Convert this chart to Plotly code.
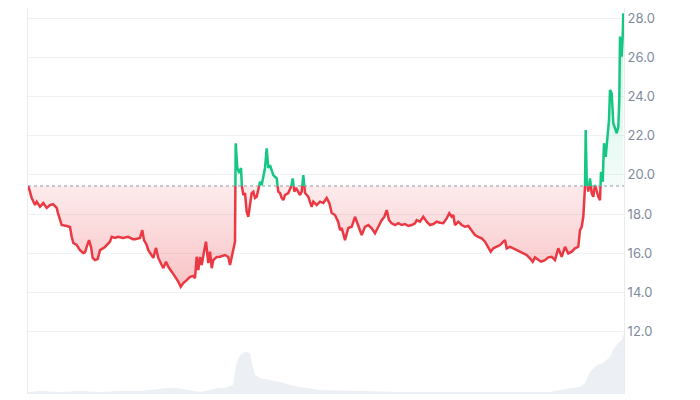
import plotly.graph_objects as go

# ---------------- data ----------------
t_price = [
    0.3, 3.7, 7, 8.7, 12, 15.3, 18.7, 22, 25, 28.7,
    30, 32, 33.7, 38.7, 42, 43.7, 45.3, 48.7, 52, 55.3,
    57, 58.7, 61, 63, 64.7, 67, 69.7, 72, 77, 82,
    83.7, 87, 90, 95, 100, 105, 107, 112, 114.3, 116,
    118.7, 120.3, 123.7, 125.3, 128, 130.3, 133.7, 135.3, 138, 140.3,
    143.7, 147, 150.3, 152.7, 155.3, 158.7, 162, 165.3, 167, 168.7,
    170.3, 172, 173.7, 176, 178, 180.3, 182, 183.7, 185.3, 188.7,
    192, 197, 200.3, 202, 203.7, 205.3, 207, 207.7, 209.3, 211.3,
    213, 213.7, 215.3, 217, 218.7, 220.3, 222, 223.7, 225.3, 227,
    228.7, 230.3, 232, 233.7, 235.3, 237, 238.7, 240.3, 242, 243.7,
    245.3, 247, 248.7, 250.3, 252, 253.7, 255.3, 257, 260.3, 263,
    264.7, 266.3, 268, 270.3, 272, 273.7, 275.3, 277, 280.3, 283.7,
    285.3, 288.7, 292, 295.3, 298.7, 301.3, 303.7, 307, 310.3, 312,
    313.7, 317, 320.3, 323.7, 327, 330.3, 333.7, 337, 340.3, 343.7,
    347, 350.3, 353.7, 356.3, 358.7, 361, 363.7, 367, 370.3, 373.7,
    377, 380.3, 383.7, 387, 388.7, 392, 395.3, 398.7, 402, 405.3,
    408.7, 412, 415.3, 418.7, 421.3, 423.7, 425.3, 427, 430.3, 433.7,
    437, 440.3, 443.7, 447, 450.3, 453.7, 457, 460.3, 462.7, 465.3,
    468.7, 472, 475.3, 477, 478.7, 482, 485.3, 488.7, 492, 495.3,
    498.7, 502, 504.7, 507, 510.3, 513, 517, 520.3, 523.7, 527,
    530.3, 533.7, 537, 540.3, 543.7, 547, 550.3, 552, 553.7, 555.3,
    557, 557.7, 558.7, 560.3, 562, 563.7, 565.3, 567, 568.7, 570.3,
    572, 573, 574.7, 576, 577.7, 579.7, 581, 582, 583.7, 585.3,
    587, 588.7, 590.3, 591.3, 592, 593.7, 594.7, 595.3,
]
price = [
    19.43, 18.82, 18.46, 18.63, 18.37, 18.56, 18.31, 18.46, 18.50, 18.31,
    18.05, 17.69, 17.44, 17.39, 17.34, 16.84, 16.52, 16.42, 16.16, 16.01,
    16.05, 16.33, 16.67, 16.33, 15.76, 15.65, 15.70, 16.16, 16.32, 16.59,
    16.84, 16.78, 16.84, 16.78, 16.84, 16.72, 16.72, 16.78, 17.18, 16.67,
    16.42, 16.16, 15.91, 15.76, 16.27, 15.76, 15.40, 15.24, 15.57, 15.31,
    15.06, 14.80, 14.55, 14.29, 14.48, 14.63, 14.80, 14.84, 14.73, 15.82,
    15.14, 15.81, 15.40, 16.08, 16.59, 15.50, 16.08, 15.24, 15.65, 15.81,
    15.82, 15.91, 15.81, 15.40, 15.82, 16.16, 16.59, 21.61, 20.35, 20.09,
    20.35, 19.48, 18.97, 19.07, 18.12, 17.86, 18.63, 19.07, 19.14, 18.82,
    18.88, 19.22, 19.65, 19.48, 19.99, 20.35, 21.35, 20.35, 20.50, 20.16,
    19.99, 19.90, 19.82, 19.14, 19.07, 18.82, 18.71, 18.97, 19.07, 19.33,
    19.82, 19.14, 19.33, 19.07, 18.97, 19.14, 19.99, 19.07, 18.88, 18.37,
    18.63, 18.46, 18.63, 18.56, 18.82, 18.56, 18.05, 17.95, 17.58, 17.18,
    17.29, 16.67, 17.29, 17.35, 17.86, 17.44, 16.93, 17.35, 17.44, 17.27,
    17.02, 17.35, 17.69, 17.86, 18.20, 17.69, 17.53, 17.44, 17.53, 17.44,
    17.49, 17.39, 17.44, 17.53, 17.69, 17.61, 17.86, 17.61, 17.44, 17.49,
    17.61, 17.56, 17.53, 17.78, 18.04, 17.86, 17.95, 17.44, 17.61, 17.44,
    17.35, 17.39, 17.18, 16.93, 16.84, 16.76, 16.59, 16.25, 16.08, 16.25,
    16.33, 16.42, 16.59, 16.67, 16.25, 16.33, 16.25, 16.16, 16.08, 15.99,
    15.91, 15.74, 15.57, 15.79, 15.65, 15.57, 15.65, 15.79, 15.82, 15.65,
    16.25, 15.82, 16.33, 15.99, 16.08, 16.25, 16.33, 17.18, 17.35, 17.86,
    19.39, 22.29, 19.73, 19.14, 19.82, 19.06, 18.88, 19.48, 19.14, 18.88,
    18.71, 20.16, 19.65, 21.61, 20.92, 21.94, 22.80, 24.33, 24.16, 22.63,
    22.37, 22.12, 22.45, 23.82, 27.05, 26.03, 27.05, 28.24,
]
baseline = 19.43

t_volume = [
    0, 12, 32, 52, 72, 92, 112, 132, 139, 149, 162, 172, 182, 189, 197,
    205, 208, 212, 217, 222, 224, 227, 232, 242, 252, 262, 272, 292, 322,
    372, 422, 472, 522, 537, 552, 557, 562, 569, 575, 582, 585, 590, 594, 596,
]
volume = [
    2, 3, 2, 3, 2, 3, 3, 5, 6, 6, 4, 2, 4, 6, 6,
    9, 29, 39, 42, 41, 31, 19, 16, 14, 12, 9, 7, 4, 3,
    2, 2, 2, 2, 5, 7, 11, 22, 29, 31, 37, 44, 51, 54, 61,
]

y_ticks = [12, 14, 16, 18, 20, 22, 24, 26, 28]

# ---------------- split line at baseline crossings ----------------
xs, ys = [t_price[0]], [price[0]]
for i in range(1, len(price)):
    p0, p1 = price[i - 1], price[i]
    if (p0 - baseline) * (p1 - baseline) < 0:
        f = (baseline - p0) / (p1 - p0)
        xs.append(t_price[i - 1] + f * (t_price[i] - t_price[i - 1]))
        ys.append(baseline)
    xs.append(t_price[i])
    ys.append(p1)

up_line = [y if y >= baseline else None for y in ys]
dn_line = [y if y <= baseline else None for y in ys]
up_fill = [max(y, baseline) for y in ys]
dn_fill = [min(y, baseline) for y in ys]
base_y = [baseline] * len(xs)

GREEN = "#16c784"
RED = "#ea3943"

fig = go.Figure()

fig.add_trace(go.Scatter(
    x=t_volume, y=volume, yaxis="y2", mode="lines",
    line=dict(width=0, color="#eceff3"), fill="tozeroy", fillcolor="#eceff3",
    hoverinfo="skip", showlegend=False,
))

fig.add_trace(go.Scatter(x=xs, y=base_y, mode="lines", line=dict(width=0),
                         hoverinfo="skip", showlegend=False))
fig.add_trace(go.Scatter(
    x=xs, y=dn_fill, mode="lines", line=dict(width=0), fill="tonexty",
    fillgradient=dict(type="vertical", start=baseline, stop=min(price),
                      colorscale=[[0, "rgba(234,57,67,0.10)"], [1, "rgba(234,57,67,0.30)"]]),
    hoverinfo="skip", showlegend=False,
))
fig.add_trace(go.Scatter(x=xs, y=base_y, mode="lines", line=dict(width=0),
                         hoverinfo="skip", showlegend=False))
fig.add_trace(go.Scatter(
    x=xs, y=up_fill, mode="lines", line=dict(width=0), fill="tonexty",
    fillgradient=dict(type="vertical", start=baseline, stop=max(price),
                      colorscale=[[0, "rgba(22,199,132,0.05)"], [1, "rgba(22,199,132,0.22)"]]),
    hoverinfo="skip", showlegend=False,
))

fig.add_trace(go.Scatter(x=xs, y=dn_line, mode="lines", connectgaps=False,
                         line=dict(color=RED, width=2.5), showlegend=False))
fig.add_trace(go.Scatter(x=xs, y=up_line, mode="lines", connectgaps=False,
                         line=dict(color=GREEN, width=2.5), showlegend=False))

fig.add_shape(type="line", xref="paper", x0=0, x1=1, yref="y", y0=baseline, y1=baseline,
              line=dict(color="#8f96a3", width=1, dash="dot"), layer="above")

fig.update_layout(
    width=700, height=400,
    margin=dict(l=20, r=84, t=0, b=14),
    paper_bgcolor="white", plot_bgcolor="white",
    font=dict(family="Inter, Roboto, sans-serif", color="#808a9d", size=13),
    xaxis=dict(visible=False, range=[0, 596]),
    yaxis=dict(
        side="right", range=[8.82, 28.51], tickvals=y_ticks, tickformat=".1f",
        showgrid=True, gridcolor="#eff1f4", gridwidth=1, zeroline=False,
        showline=True, mirror=True, linecolor="#e9ebef", linewidth=1, ticks="",
        tickfont=dict(color="#808a9d", size=13),
    ),
    yaxis2=dict(overlaying="y", range=[0, 386], visible=False),
)

fig.write_html("out.html")
